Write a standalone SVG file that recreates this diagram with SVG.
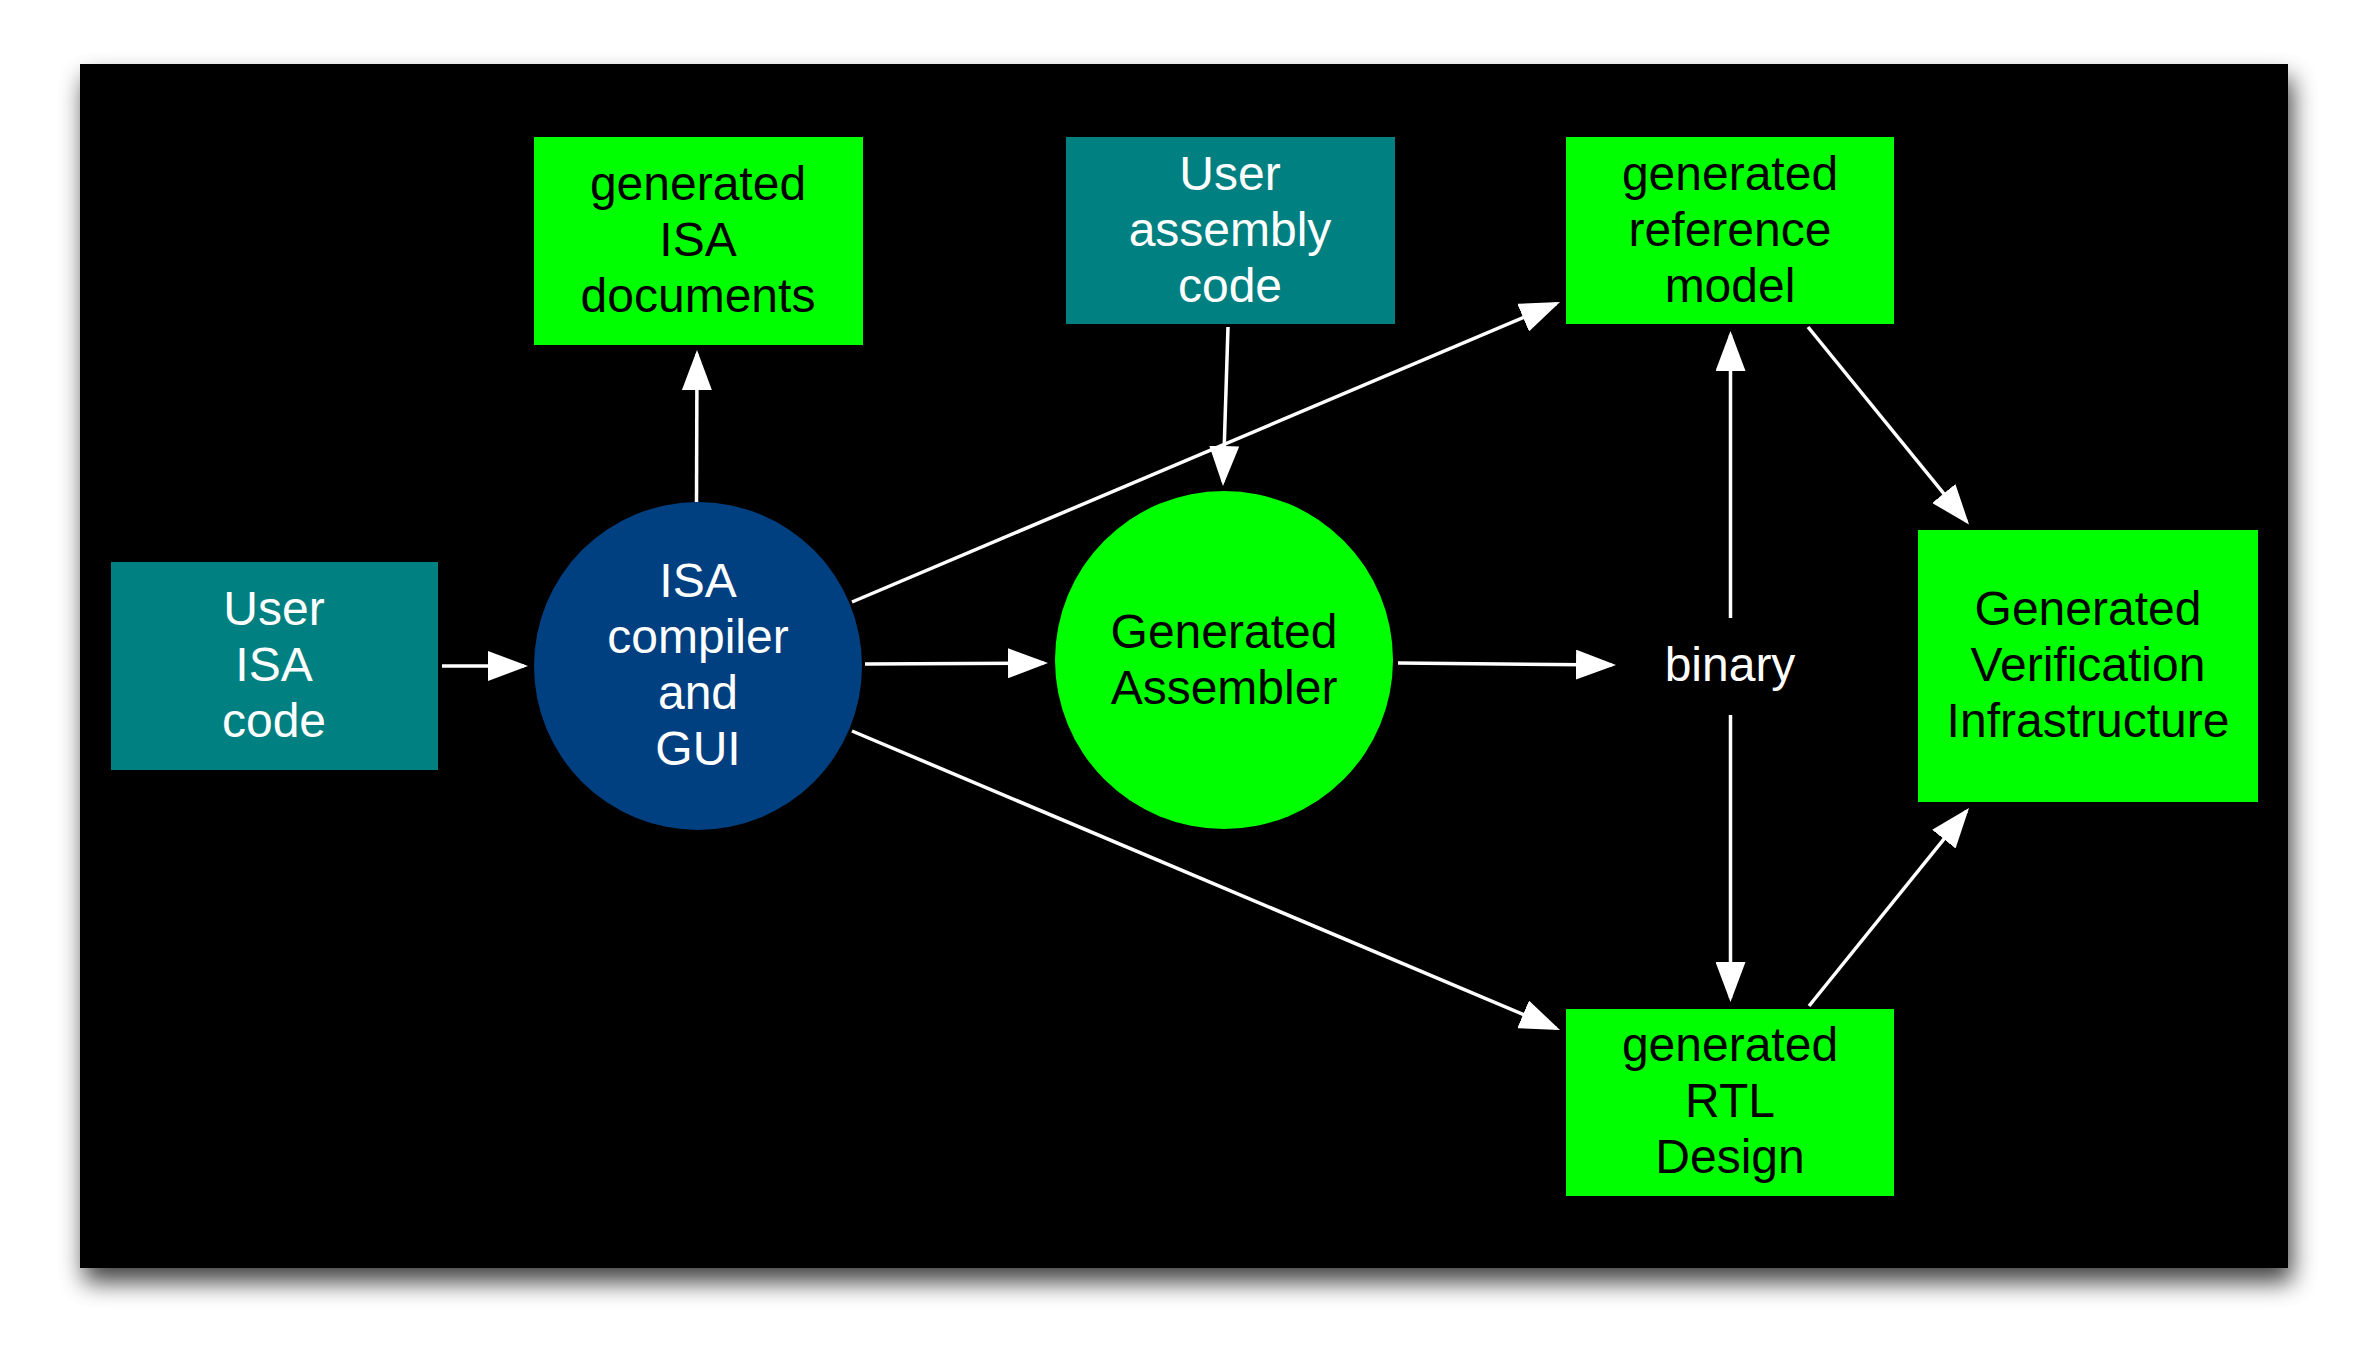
<svg xmlns="http://www.w3.org/2000/svg" width="2368" height="1364" viewBox="0 0 2368 1364">
<style>
.t{font-family:"Liberation Sans",Arial,sans-serif;font-size:48px;text-anchor:middle}
.w{fill:#ffffff}
.b{fill:#000000}
.teal{fill:#008080}
.green{fill:#00ff00}
.blue{fill:#003f80}
.c{stroke:#ffffff;stroke-width:3.5;fill:none;marker-end:url(#ah)}
</style>
<defs>
<filter id="sh" x="-5%" y="-5%" width="112%" height="115%">
<feGaussianBlur in="SourceAlpha" stdDeviation="12"/>
<feOffset dx="4" dy="14" result="o"/>
<feComponentTransfer><feFuncA type="linear" slope="0.75"/></feComponentTransfer>
<feMerge><feMergeNode/><feMergeNode in="SourceGraphic"/></feMerge>
</filter>
<marker id="ah" viewBox="0 0 40 30" refX="36" refY="15" markerWidth="40" markerHeight="30" markerUnits="userSpaceOnUse" orient="auto">
<path d="M0,0 L40,15 L0,30 z" fill="#ffffff"/>
</marker>
</defs>
<rect x="0" y="0" width="2368" height="1364" fill="#ffffff"/>
<rect id="frame" x="80" y="64" width="2208" height="1204" fill="#000000" filter="url(#sh)"/>
<g id="connectors">
<line class="c" x1="442" y1="666" x2="524" y2="666"/>
<line class="c" x1="696.5" y1="502" x2="697" y2="354"/>
<line class="c" x1="865" y1="664" x2="1044" y2="663"/>
<line class="c" x1="852" y1="602" x2="1556.3" y2="303.6"/>
<line class="c" x1="852" y1="731" x2="1556.3" y2="1028.4"/>
<line class="c" x1="1228" y1="327" x2="1223.1" y2="482"/>
<line class="c" x1="1398" y1="663" x2="1612" y2="665"/>
<line class="c" x1="1730.5" y1="618" x2="1730.5" y2="335"/>
<line class="c" x1="1730.5" y1="715" x2="1730.5" y2="998"/>
<line class="c" x1="1808" y1="327" x2="1966.5" y2="521.4"/>
<line class="c" x1="1809" y1="1006" x2="1966.5" y2="811.1"/>
</g>
<g id="user-isa-code">
<rect class="teal" x="111" y="562" width="327" height="208"/>
<text class="t w" x="274" y="625">User</text>
<text class="t w" x="274" y="681">ISA</text>
<text class="t w" x="274" y="737">code</text>
</g>
<g id="isa-compiler">
<circle class="blue" cx="698" cy="666" r="164"/>
<text class="t w" x="698" y="597">ISA</text>
<text class="t w" x="698" y="653">compiler</text>
<text class="t w" x="698" y="709">and</text>
<text class="t w" x="698" y="765">GUI</text>
</g>
<g id="isa-documents">
<rect class="green" x="534" y="137" width="329" height="208"/>
<text class="t b" x="698" y="200">generated</text>
<text class="t b" x="698" y="256">ISA</text>
<text class="t b" x="698" y="312">documents</text>
</g>
<g id="user-assembly-code">
<rect class="teal" x="1066" y="137" width="329" height="187"/>
<text class="t w" x="1230" y="190">User</text>
<text class="t w" x="1230" y="246">assembly</text>
<text class="t w" x="1230" y="302">code</text>
</g>
<g id="assembler">
<circle class="green" cx="1224" cy="660" r="169"/>
<text class="t b" x="1224" y="648">Generated</text>
<text class="t b" x="1224" y="704">Assembler</text>
</g>
<g id="binary">
<text class="t w" x="1730" y="681">binary</text>
</g>
<g id="reference-model">
<rect class="green" x="1566" y="137" width="328" height="187"/>
<text class="t b" x="1730" y="190">generated</text>
<text class="t b" x="1730" y="246">reference</text>
<text class="t b" x="1730" y="302">model</text>
</g>
<g id="rtl-design">
<rect class="green" x="1566" y="1009" width="328" height="187"/>
<text class="t b" x="1730" y="1061">generated</text>
<text class="t b" x="1730" y="1117">RTL</text>
<text class="t b" x="1730" y="1173">Design</text>
</g>
<g id="verification">
<rect class="green" x="1918" y="530" width="340" height="272"/>
<text class="t b" x="2088" y="625">Generated</text>
<text class="t b" x="2088" y="681">Verification</text>
<text class="t b" x="2088" y="737">Infrastructure</text>
</g>
</svg>
